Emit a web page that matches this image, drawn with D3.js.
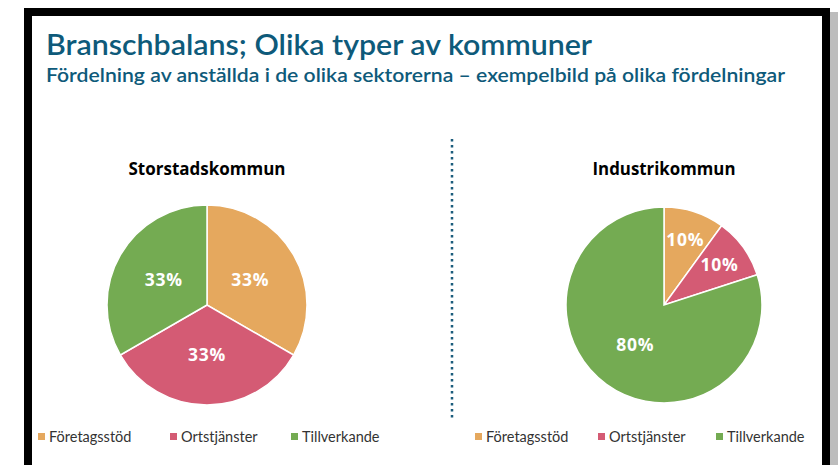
<!DOCTYPE html>
<html>
<head>
<meta charset="utf-8">
<style>
  body { margin: 0; background: #fff; }
  svg { display: block; font-family: Lato, "Open Sans", sans-serif; }
</style>
</head>
<body>
<svg width="838" height="465"></svg>
<script src="https://d3js.org/d3.v7.min.js"></script>
<script>
  // data
  const categories = ["Företagsstöd", "Ortstjänster", "Tillverkande"];
  const storstadValues = [33.33, 33.33, 33.33];
  const storstadLabels = ["33%", "33%", "33%"];
  const industriValues = [10, 10, 80];
  const industriLabels = ["10%", "10%", "80%"];
  const chartTitles = ["Storstadskommun", "Industrikommun"];

  const svg = d3.select("svg");
  const color = d3.scaleOrdinal().domain(categories).range(["#e5a85e", "#d45b74", "#74ab52"]);

  // frame with shadow
  svg.append("rect").attr("x", 830).attr("y", 12).attr("width", 8).attr("height", 460)
    .attr("fill", "#bdbdbd");
  svg.append("rect").attr("x", 28).attr("y", 12).attr("width", 798).attr("height", 470)
    .attr("fill", "#fff").attr("stroke", "#000").attr("stroke-width", 8);

  svg.append("text").attr("x", 46).attr("y", 55)
    .attr("font-size", 28).attr("font-weight", 600).attr("fill", "#0e5a7a")
    .attr("textLength", 546).attr("lengthAdjust", "spacingAndGlyphs")
    .text("Branschbalans; Olika typer av kommuner");
  svg.append("text").attr("x", 46).attr("y", 82)
    .attr("font-size", 19).attr("font-weight", 600).attr("fill", "#0e5a7a")
    .attr("textLength", 739).attr("lengthAdjust", "spacingAndGlyphs")
    .text("Fördelning av anställda i de olika sektorerna – exempelbild på olika fördelningar");

  // dotted divider
  svg.append("line").attr("x1", 452).attr("x2", 452).attr("y1", 139).attr("y2", 418)
    .attr("stroke", "#1b5c7c").attr("stroke-width", 2.5)
    .attr("stroke-dasharray", "2.5 3.5");

  const pies = [
    { cx: 207, cy: 305, r: 100, values: storstadValues, labels: storstadLabels, title: chartTitles[0], titleW: 157, legendX: [38, 170, 291] },
    { cx: 664, cy: 305, r: 98, values: industriValues, labels: industriLabels, title: chartTitles[1], titleW: 143, legendX: [475, 598, 716] }
  ];

  const pie = d3.pie().sort(null);

  pies.forEach(p => {
    const g = svg.append("g").attr("transform", `translate(${p.cx},${p.cy})`);
    const arcs = pie(p.values);
    const arc = d3.arc().innerRadius(0).outerRadius(p.r);

    g.selectAll("path").data(arcs).enter().append("path")
      .attr("d", arc)
      .attr("fill", (d, i) => color(categories[i]))
      .attr("stroke", "#fff").attr("stroke-width", 1.5);

    g.selectAll("text.lbl").data(arcs).enter().append("text")
      .attr("class", "lbl")
      .attr("transform", d => {
        const span = d.endAngle - d.startAngle;
        const lr = span < Math.PI / 3 ? p.r * 0.7 : p.r * 0.5;
        const c = d3.arc().innerRadius(lr).outerRadius(lr).centroid(d);
        return `translate(${c[0]},${c[1]})`;
      })
      .attr("text-anchor", "middle").attr("dy", "0.36em")
      .attr("font-family", "'Open Sans', sans-serif")
      .attr("font-size", 17.5).attr("font-weight", 700).attr("fill", "#fff")
      .attr("letter-spacing", 0.7)
      .text((d, i) => p.labels[i]);

    svg.append("text").attr("x", p.cx).attr("y", 175)
      .attr("text-anchor", "middle").attr("font-size", 17).attr("font-weight", 700)
      .attr("font-family", "'Open Sans', sans-serif")
      .attr("textLength", p.titleW).attr("lengthAdjust", "spacingAndGlyphs")
      .attr("fill", "#000").text(p.title);

    const leg = svg.selectAll(null).data(categories).enter().append("g")
      .attr("transform", (d, i) => `translate(${p.legendX[i]},433)`);
    leg.append("rect").attr("width", 7).attr("height", 7).attr("fill", d => color(d));
    leg.append("text").attr("x", 11).attr("y", 8.5)
      .attr("font-size", 14.5).attr("fill", "#333").text(d => d);
  });
</script>
</body>
</html>
